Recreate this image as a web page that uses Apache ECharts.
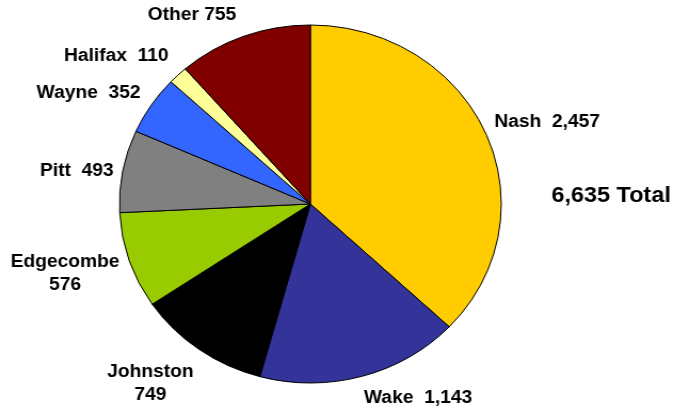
<!DOCTYPE html>
<html>
<head>
<meta charset="utf-8">
<script src="https://cdn.jsdelivr.net/npm/echarts@6/dist/echarts.min.js"></script>
<style>
  html, body { margin: 0; padding: 0; background: #fff; overflow: hidden; }
  /* the original picture is a bit wider than tall, so the whole chart is stretched sideways */
  #chart { width: 635px; height: 412px; transform: scaleX(1.0665); transform-origin: 0 0; }
</style>
</head>
<body>
<div id="chart"></div>
<script>
  // data
  const categories = ['Nash', 'Wake', 'Johnston', 'Edgecombe', 'Pitt', 'Wayne', 'Halifax', 'Other'];
  const values = [2457, 1143, 749, 576, 493, 352, 110, 755];
  const colors = ['#FFCC00', '#333399', '#000000', '#99CC00', '#808080', '#3366FF', '#FFFF99', '#800000'];

  // label text layout: name and value on one line or two
  const twoLine = [false, false, true, true, false, false, false, false];
  const labelPos = [
    [513, 122], [392, 398], [141, 384], [61, 274],
    [72, 171], [83, 93], [109, 56], [180, 15],
  ];

  const fmt = (n) => n.toLocaleString('en-US');
  const total = values.reduce((a, b) => a + b, 0);

  const myChart = echarts.init(document.getElementById('chart'));

  const option = {
    animation: false,
    backgroundColor: '#fff',
    series: [
      {
        type: 'pie',
        center: [291, 204],
        radius: 179,
        startAngle: 90,
        clockwise: true,
        avoidLabelOverlap: false,
        data: categories.map((c, i) => ({
          name: c,
          value: values[i],
          itemStyle: { color: colors[i] },
        })),
        itemStyle: { borderColor: '#000', borderWidth: 1 },
        emphasis: { disabled: true },
        label: {
          show: true,
          position: 'outside',
          color: '#000',
          fontFamily: 'Liberation Sans, Arial',
          fontWeight: 'bold',
          fontSize: 18,
          lineHeight: 23,
          align: 'center',
          formatter: (p) => {
            const i = p.dataIndex;
            if (i === 7) return p.name + ' ' + fmt(p.value);
            return twoLine[i] ? p.name + '\n' + fmt(p.value) : p.name + '  ' + fmt(p.value);
          },
        },
        labelLine: { show: false },
        labelLayout: (params) => {
          const pos = labelPos[params.dataIndex];
          return { x: pos[0], y: pos[1], align: 'center', verticalAlign: 'middle' };
        },
      },
    ],
    graphic: [
      {
        type: 'text',
        x: 573,
        y: 196,
        style: {
          text: fmt(total) + ' Total',
          font: 'bold 22px "Liberation Sans", Arial',
          fill: '#000',
          textAlign: 'center',
          textVerticalAlign: 'middle',
        },
      },
    ],
  };

  option && myChart.setOption(option);
</script>
</body>
</html>
